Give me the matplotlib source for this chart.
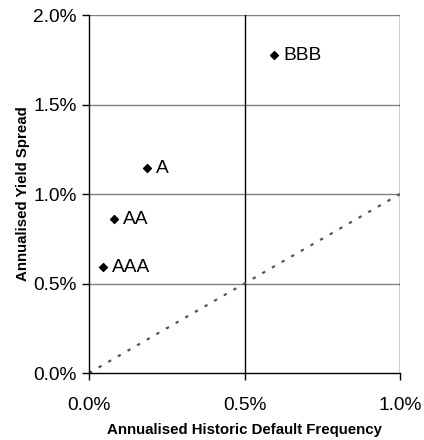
import numpy as np
import matplotlib
matplotlib.use('Agg')
import matplotlib.pyplot as plt
from matplotlib.ticker import FuncFormatter

plt.rcParams['font.family'] = ['Liberation Sans', 'DejaVu Sans']

# ratings data (percent)
ratings = ['AAA', 'AA', 'A', 'BBB']
default_freq = [0.045, 0.08, 0.185, 0.595]
yield_spread = [0.59, 0.86, 1.145, 1.775]
ref_line_x = [0.0, 1.0]
ref_line_y = [0.0, 1.0]
xticks = [0.0, 0.5, 1.0]
yticks = [0.0, 0.5, 1.0, 1.5, 2.0]

fig = plt.figure(figsize=(4.24, 4.40), dpi=100)
ax = fig.add_axes([89 / 424, 67 / 440, 311 / 424, 358 / 440])

# grid
for yv in yticks[1:]:
    ax.axhline(yv, color='#808080', lw=1.0, zorder=1)
for xv in xticks[1:]:
    ax.axvline(xv, color='black', lw=1.0, zorder=1)

ax.plot(ref_line_x, ref_line_y, color='#555555', lw=1.6, linestyle=(0, (1.5, 3.5)), zorder=2)
ax.scatter(default_freq, yield_spread, marker='D', s=16, color='black', zorder=3)
for x, y, lab in zip(default_freq, yield_spread, ratings):
    ax.annotate(lab, (x, y), xytext=(6.5, 0), textcoords='offset points',
                va='center', ha='left', fontsize=13.8)

ax.set_xlim(0, 1.0)
ax.set_ylim(0, 2.0)
ax.set_xticks(xticks)
ax.set_yticks(yticks)
fmt = FuncFormatter(lambda v, p: '%.1f%%' % v)
ax.xaxis.set_major_formatter(fmt)
ax.yaxis.set_major_formatter(fmt)
ax.tick_params(axis='both', labelsize=13.8, direction='out', length=5, width=1.0)
ax.tick_params(axis='x', pad=12)
ax.tick_params(axis='y', pad=4)

ax.spines['top'].set_visible(False)
ax.spines['right'].set_visible(False)
ax.spines['left'].set_linewidth(1.0)
ax.spines['bottom'].set_linewidth(1.0)

ax.set_xlabel('Annualised Historic Default Frequency', fontsize=10.8, fontweight='bold', labelpad=7)
ax.set_ylabel('Annualised Yield Spread', fontsize=10.8, fontweight='bold', labelpad=2)

fig.savefig('out.png', dpi=100)
